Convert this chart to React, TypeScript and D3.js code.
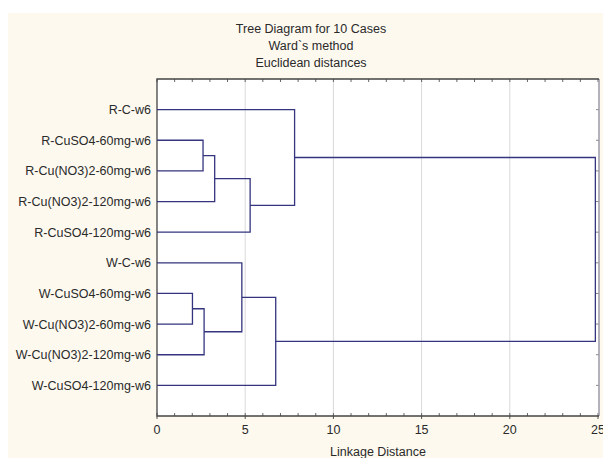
import React from 'react'
import * as d3 from 'd3'

const width = 603
const height = 458
const margin = { top: 79, right: 4, bottom: 42, left: 157 }

const titleLines = ['Tree Diagram for 10 Cases', 'Ward`s method', 'Euclidean distances']
const cases = [
  'R-C-w6',
  'R-CuSO4-60mg-w6',
  'R-Cu(NO3)2-60mg-w6',
  'R-Cu(NO3)2-120mg-w6',
  'R-CuSO4-120mg-w6',
  'W-C-w6',
  'W-CuSO4-60mg-w6',
  'W-Cu(NO3)2-60mg-w6',
  'W-Cu(NO3)2-120mg-w6',
  'W-CuSO4-120mg-w6',
]
// merges: node ids 0-9 are cases, 10+ are the clusters built below, in order
const mergeLeft = [6, 1, 10, 11, 5, 13, 14, 0, 17]
const mergeRight = [7, 2, 8, 3, 12, 4, 9, 15, 16]
const mergeHeight = [2.01, 2.61, 2.67, 3.27, 4.81, 5.28, 6.73, 7.8, 24.85]
const xTicks = [0, 5, 10, 15, 20, 25]

const lineColor = '#35357f'
const font = '"Liberation Sans", Arial, sans-serif'

export default function App() {
  const x0 = margin.left
  const x1 = width - margin.right
  const y0 = margin.top
  const y1 = height - margin.bottom

  const x = d3.scaleLinear().domain([0, 25]).range([x0, x1 - 1])
  const y = d3.scalePoint<string>().domain(cases).range([y0, y1]).padding(1)

  // position of every node (cases first, then clusters)
  const nodeX: number[] = cases.map(() => x(0))
  const nodeY: number[] = cases.map(c => y(c) as number)
  const paths: string[] = []
  mergeHeight.forEach((h, i) => {
    const a = mergeLeft[i]
    const b = mergeRight[i]
    const p = d3.path()
    p.moveTo(nodeX[a], nodeY[a])
    p.lineTo(x(h), nodeY[a])
    p.lineTo(x(h), nodeY[b])
    p.lineTo(nodeX[b], nodeY[b])
    paths.push(p.toString())
    nodeX.push(x(h))
    nodeY.push((nodeY[a] + nodeY[b]) / 2)
  })

  const minor = d3.range(0, 26, 1)

  return (
    <svg width={width} height={height} style={{ position: 'absolute', left: 0, top: 0 }} fontFamily={font}>
      <rect x={8} y={13} width={width - 8} height={height - 13} fill='#fdf9ef' />
      {titleLines.map((t, i) => (
        <text key={t} x={311} y={33 + i * 17} textAnchor='middle' fontSize={12.5} fill='#2a2a2a'>{t}</text>
      ))}
      <rect x={x0} y={y0} width={x1 - x0} height={y1 - y0} fill='#fff' />
      {xTicks.slice(1, -1).map(t => (
        <line key={t} x1={x(t)} x2={x(t)} y1={y0} y2={y1} stroke='#d9d9d9' strokeWidth={1} />
      ))}
      {/* minor ticks top and bottom */}
      {minor.map(t => (
        <g key={t} stroke='#666' strokeWidth={1}>
          <line x1={x(t)} x2={x(t)} y1={y0} y2={y0 + 3} />
          <line x1={x(t)} x2={x(t)} y1={y1} y2={y1 - 3} />
        </g>
      ))}
      {xTicks.map(t => (
        <line key={t} x1={x(t)} x2={x(t)} y1={y1} y2={y1 + 3} stroke='#555' />
      ))}
      {/* right side ticks */}
      {cases.map(c => (
        <line key={c} x1={x1} x2={x1 - 3} y1={y(c)} y2={y(c)} stroke='#888' />
      ))}
      <line x1={x1} x2={x1} y1={y0} y2={y1} stroke='#9a9aa8' strokeWidth={1.5} />
      <path d={`M${x1},${y0}H${x0}V${y1}H${x1}`} fill='none' stroke='#444' strokeWidth={1.3} />
      {paths.map((d, i) => (
        <path key={i} d={d} fill='none' stroke={lineColor} strokeWidth={1.3} />
      ))}
      {cases.map(c => (
        <text key={c} x={x0 - 6} y={(y(c) as number) + 4.5} textAnchor='end' fontSize={12.5} fill='#2a2a2a'>{c}</text>
      ))}
      {xTicks.map(t => (
        <text key={t} x={x(t)} y={y1 + 18} textAnchor='middle' fontSize={12.5} fill='#2a2a2a'>{t}</text>
      ))}
      <text x={378} y={y1 + 40} textAnchor='middle' fontSize={12.5} fill='#2a2a2a'>Linkage Distance</text>
    </svg>
  )
}
